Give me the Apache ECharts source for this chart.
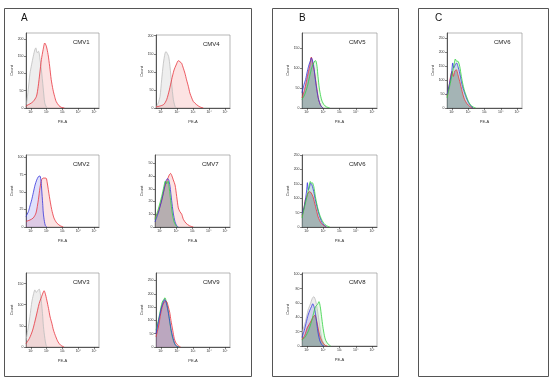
<!DOCTYPE html>
<html><head><meta charset="utf-8">
<script src="https://cdn.jsdelivr.net/npm/echarts@6/dist/echarts.min.js"></script>
<style>html,body{margin:0;padding:0;background:#fff}#c{width:550px;height:380px}</style>
</head><body><div id="c"></div>
<script>
// ---------- DATA (x = log10 decade of PE-A, y = count) ----------
const xTickValues = [1, 2, 3, 4, 5];
const xTickLabels = ['10\u00b9', '10\u00b2', '10\u00b3', '10\u2074', '10\u2075'];
const panelTitles = ['CMV1', 'CMV4', 'CMV2', 'CMV7', 'CMV3', 'CMV9', 'CMV5', 'CMV6', 'CMV8', 'CMV6'];
const panelLetters = ['A', 'B', 'C'];

const yTicks1 = [0, 50, 100, 150, 200];
const yTicks4 = [0, 50, 100, 150, 200];
const yTicks2 = [0, 25, 50, 75, 100];
const yTicks7 = [0, 10, 20, 30, 40, 50];
const yTicks3 = [0, 50, 100, 150];
const yTicks9 = [0, 50, 100, 150, 200, 250];
const yTicks5 = [0, 50, 100, 150];
const yTicks6b = [0, 50, 100, 150, 200, 250];
const yTicks8 = [0, 20, 40, 60, 80, 100];
const yTicks6c = [0, 50, 100, 150, 200, 250];

// CMV1
const cmv1Grey = [[0.7,10],[0.74,15],[0.84,53],[0.95,100],[1.05,125],[1.16,150],[1.26,169],[1.32,174],[1.40,160],[1.49,164],[1.57,145],[1.67,110],[1.78,60],[1.88,15],[1.98,3],[2.05,0]];
const cmv1Red = [[0.7,5],[0.74,7],[0.95,12],[1.16,19],[1.36,34],[1.47,63],[1.57,101],[1.67,140],[1.78,169],[1.88,188],[1.98,179],[2.09,155],[2.19,121],[2.29,82],[2.40,53],[2.50,34],[2.60,19],[2.77,7],[2.92,2],[3.12,0]];
// CMV4
const cmv4Grey = [[0.7,0],[0.84,14],[0.95,32],[1.05,78],[1.16,124],[1.26,151],[1.32,156],[1.40,151],[1.49,142],[1.57,115],[1.67,69],[1.78,23],[1.88,5],[1.95,0]];
const cmv4Red = [[0.7,3],[1.16,9],[1.36,23],[1.53,50],[1.67,78],[1.82,105],[1.95,119],[2.09,131],[2.19,128],[2.29,124],[2.40,110],[2.50,96],[2.60,78],[2.71,60],[2.81,41],[2.92,28],[3.02,18],[3.23,9],[3.43,3],[3.64,0]];
// CMV2
const cmv2Blue = [[0.7,15],[0.85,22],[0.95,30],[1.06,39],[1.16,49],[1.27,60],[1.37,67],[1.48,72],[1.58,73],[1.65,65],[1.69,53],[1.75,34],[1.79,20],[1.86,8],[1.92,2],[2.0,0]];
const cmv2Red = [[0.7,8],[0.95,10],[1.16,13],[1.33,20],[1.48,39],[1.58,56],[1.69,68],[1.79,70],[1.96,70],[2.04,63],[2.17,44],[2.32,25],[2.46,13],[2.63,6],[2.84,2],[3.05,0]];
// CMV7
const cmv7Red = [[0.7,7],[0.9,12],[1.11,21],[1.31,32],[1.46,37],[1.58,41],[1.66,42],[1.74,40],[1.82,37],[1.93,33],[2.03,24],[2.13,15],[2.23,12],[2.34,10],[2.44,6],[2.6,3],[2.81,1],[3.05,0]];
const cmv7Blue = [[0.7,4],[0.9,11],[1.11,21],[1.25,29],[1.37,36],[1.46,38],[1.54,37],[1.62,32],[1.72,21],[1.82,11],[1.93,4],[2.03,1],[2.13,0]];
const cmv7Green = [[0.7,6],[0.9,14],[1.11,24],[1.25,32],[1.33,36],[1.42,34],[1.50,36],[1.58,30],[1.66,21],[1.76,11],[1.87,4],[1.99,1],[2.07,0]];
// CMV3
const cmv3Grey = [[0.7,16],[0.85,48],[0.97,79],[1.07,107],[1.16,123],[1.26,135],[1.35,129],[1.43,133],[1.53,137],[1.60,127],[1.68,103],[1.74,79],[1.80,48],[1.89,20],[1.97,4],[2.05,0]];
const cmv3Red = [[0.7,8],[0.91,20],[1.12,40],[1.33,71],[1.53,103],[1.68,119],[1.80,131],[1.84,133],[1.91,127],[2.01,111],[2.12,91],[2.22,71],[2.33,56],[2.43,40],[2.58,24],[2.72,12],[2.89,4],[3.1,0]];
// CMV9
const cmv9Red = [[0.7,38],[0.85,75],[0.99,125],[1.11,156],[1.22,169],[1.30,173],[1.38,169],[1.47,150],[1.55,131],[1.63,100],[1.74,63],[1.84,31],[1.94,15],[2.09,5],[2.23,0]];
const cmv9Blue = [[0.7,50],[0.91,113],[1.05,150],[1.16,169],[1.24,178],[1.32,169],[1.42,144],[1.53,106],[1.63,69],[1.74,38],[1.86,13],[1.98,3],[2.11,0]];
const cmv9Green = [[0.7,63],[0.8,88],[0.91,119],[1.01,150],[1.09,169],[1.18,178],[1.26,185],[1.32,175],[1.40,156],[1.49,125],[1.57,88],[1.67,50],[1.78,25],[1.88,10],[1.98,3],[2.15,0]];
// CMV5
const cmv5Red = [[0.7,25],[0.86,46],[1.03,79],[1.17,104],[1.27,127],[1.37,108],[1.44,96],[1.52,75],[1.62,46],[1.72,21],[1.85,6],[1.99,0]];
const cmv5Blue = [[0.7,38],[0.82,58],[0.92,71],[1.03,92],[1.13,108],[1.21,117],[1.27,125],[1.33,121],[1.42,104],[1.52,71],[1.62,42],[1.72,21],[1.85,6],[1.99,0]];
const cmv5Green = [[0.7,21],[0.86,33],[1.03,54],[1.17,79],[1.27,96],[1.37,108],[1.48,117],[1.54,118],[1.62,104],[1.68,79],[1.76,50],[1.85,29],[1.93,17],[2.05,8],[2.19,3],[2.4,0]];
// CMV6 (B)
const cmv6bRed = [[0.7,37],[0.82,66],[0.9,94],[0.99,106],[1.07,118],[1.17,123],[1.27,118],[1.37,106],[1.48,83],[1.58,60],[1.68,37],[1.78,23],[1.89,12],[2.05,5],[2.19,0]];
const cmv6bBlue = [[0.7,43],[0.86,77],[0.99,129],[1.03,154],[1.09,129],[1.17,141],[1.23,152],[1.31,146],[1.42,123],[1.52,94],[1.62,71],[1.72,48],[1.82,31],[1.93,16],[2.05,7],[2.21,0]];
const cmv6bGreen = [[0.7,31],[0.86,71],[1.03,112],[1.15,146],[1.21,158],[1.27,152],[1.33,154],[1.42,141],[1.52,106],[1.62,77],[1.72,54],[1.82,37],[1.93,23],[2.05,12],[2.19,5],[2.4,0]];
// CMV8
const cmv8Grey = [[0.7,18],[0.91,34],[1.07,50],[1.22,59],[1.32,66],[1.42,69],[1.53,64],[1.63,52],[1.74,36],[1.84,20],[1.94,8],[2.09,1],[2.15,0]];
const cmv8Red = [[0.7,9],[0.87,15],[1.01,25],[1.16,31],[1.28,36],[1.40,41],[1.49,43],[1.59,36],[1.69,25],[1.80,14],[1.94,6],[2.11,1],[2.25,0]];
const cmv8Blue = [[0.7,12],[0.84,22],[0.97,34],[1.07,43],[1.18,50],[1.28,55],[1.36,59],[1.45,54],[1.53,45],[1.61,31],[1.69,18],[1.80,7],[1.94,1],[2.05,0]];
const cmv8Green = [[0.7,8],[0.91,13],[1.11,22],[1.28,34],[1.40,45],[1.53,55],[1.65,58],[1.74,62],[1.82,55],[1.90,41],[1.98,27],[2.07,15],[2.15,8],[2.29,3],[2.46,0]];
// CMV6 (C)
const cmv6cRed = [[0.7,42],[0.82,75],[0.9,107],[1.01,131],[1.09,113],[1.17,131],[1.27,137],[1.37,119],[1.48,95],[1.58,71],[1.68,48],[1.78,30],[1.93,15],[2.09,6],[2.3,0]];
const cmv6cBlue = [[0.7,48],[0.86,89],[0.99,131],[1.05,161],[1.11,143],[1.21,155],[1.29,161],[1.37,149],[1.48,125],[1.58,95],[1.68,71],[1.78,54],[1.89,36],[2.01,20],[2.15,8],[2.3,0]];
const cmv6cGreen = [[0.7,36],[0.86,77],[1.03,125],[1.15,161],[1.21,175],[1.29,167],[1.37,167],[1.48,149],[1.58,113],[1.68,83],[1.78,60],[1.89,42],[2.01,24],[2.13,12],[2.3,4],[2.46,0]];

// ---------- STYLE / LAYOUT ----------
const C = {
  red: {line: '#e8323c', fill: 'rgba(242,130,130,0.32)'},
  grey: {line: '#bdbdbd', fill: 'rgba(200,200,200,0.45)'},
  blue: {line: '#3535dc', fill: 'rgba(110,110,235,0.30)'},
  green: {line: '#2fd23f', fill: 'rgba(140,225,140,0.30)'},
  redDark: {line: '#e8323c', fill: 'rgba(120,116,108,0.72)'},
  greenDark: {line: '#2fd23f', fill: 'rgba(125,122,110,0.6)'},
  blueLight: {line: '#3535dc', fill: 'rgba(110,160,220,0.28)'}
};

const panels = [
  {left: 26, top: 33, w: 73, h: 75, ymax: 217, yt: yTicks1, curves: [[cmv1Grey, C.grey], [cmv1Red, C.red]]},
  {left: 156, top: 35, w: 74, h: 73, ymax: 202, yt: yTicks4, curves: [[cmv4Grey, C.grey], [cmv4Red, C.red]]},
  {left: 26, top: 155, w: 73, h: 72, ymax: 103, yt: yTicks2, curves: [[cmv2Red, C.red], [cmv2Blue, C.blue]]},
  {left: 155, top: 155, w: 75, h: 72, ymax: 56.5, yt: yTicks7, curves: [[cmv7Red, C.red], [cmv7Blue, C.blueLight], [cmv7Green, C.greenDark]]},
  {left: 26, top: 273, w: 73, h: 74, ymax: 175, yt: yTicks3, curves: [[cmv3Grey, C.grey], [cmv3Red, C.red]]},
  {left: 156, top: 273, w: 74, h: 74, ymax: 278, yt: yTicks9, curves: [[cmv9Green, C.greenDark], [cmv9Red, C.red], [cmv9Blue, C.blue]]},
  {left: 302, top: 33, w: 75, h: 75, ymax: 187, yt: yTicks5, curves: [[cmv5Red, C.redDark], [cmv5Blue, C.blue], [cmv5Green, C.green]]},
  {left: 302, top: 155, w: 75, h: 72, ymax: 250, yt: yTicks6b, curves: [[cmv6bRed, C.redDark], [cmv6bBlue, C.blue], [cmv6bGreen, C.green]]},
  {left: 302, top: 273, w: 75, h: 73, ymax: 102, yt: yTicks8, curves: [[cmv8Grey, C.grey], [cmv8Red, C.redDark], [cmv8Blue, C.blue], [cmv8Green, C.green]]},
  {left: 447, top: 33, w: 75, h: 75, ymax: 268, yt: yTicks6c, curves: [[cmv6cRed, C.redDark], [cmv6cBlue, C.blue], [cmv6cGreen, C.green]]}
];

const FONT = 'Liberation Sans, Arial, sans-serif';
const grid = [], xAxis = [], yAxis = [], series = [], graphic = [];

panels.forEach((p, i) => {
  grid.push({left: p.left, top: p.top, width: p.w, height: p.h, show: true, borderColor: '#9a9a9a', borderWidth: 0.7, backgroundColor: 'transparent'});
  xAxis.push({
    gridIndex: i, type: 'value', min: 0.7, max: 5.3,
    name: 'PE-A', nameLocation: 'middle', nameGap: 12,
    nameTextStyle: {fontSize: 4, color: '#333', fontFamily: FONT},
    axisLine: {show: true, lineStyle: {color: '#333', width: 0.8}},
    axisTick: {show: true, length: 2, customValues: xTickValues, lineStyle: {color: '#333', width: 0.6}},
    axisLabel: {fontSize: 3.5, color: '#333', margin: 2.5, fontFamily: FONT, customValues: xTickValues,
      formatter: v => xTickLabels[xTickValues.indexOf(Math.round(v))] || ''},
    splitLine: {show: false}
  });
  yAxis.push({
    gridIndex: i, type: 'value', min: 0, max: p.ymax,
    name: 'Count', nameLocation: 'middle', nameGap: 11,
    nameTextStyle: {fontSize: 4, color: '#333', fontFamily: FONT},
    axisLine: {show: true, lineStyle: {color: '#333', width: 0.8}},
    axisTick: {show: true, length: 2, customValues: p.yt, lineStyle: {color: '#333', width: 0.6}},
    axisLabel: {fontSize: 3.5, color: '#333', margin: 2.5, fontFamily: FONT, customValues: p.yt},
    splitLine: {show: false}
  });
  p.curves.forEach(([data, st]) => {
    series.push({
      type: 'line', xAxisIndex: i, yAxisIndex: i, data: data,
      showSymbol: false, smooth: 0.25, silent: true, animation: false,
      lineStyle: {color: st.line, width: 0.8},
      areaStyle: {color: st.fill, origin: 'start'}
    });
  });
  graphic.push({type: 'text', left: p.left + 47, top: p.top + 6,
    style: {text: panelTitles[i], fontSize: 6, fill: '#222', fontFamily: FONT}});
});

// panel frames and letters
const boxes = [[4, 8, 247, 368], [272, 8, 126, 368], [418, 8, 130, 368]];
const letterPos = [[21, 13], [299, 13], [435, 13]];
boxes.forEach((b, k) => {
  graphic.push({type: 'rect', shape: {x: b[0] + 0.5, y: b[1] + 0.5, width: b[2], height: b[3]},
    style: {fill: 'none', stroke: '#555', lineWidth: 1}});
  graphic.push({type: 'text', left: letterPos[k][0], top: letterPos[k][1],
    style: {text: panelLetters[k], fontSize: 10, fill: '#111', fontFamily: FONT}});
});

const chart = echarts.init(document.getElementById('c'), null, {renderer: 'canvas'});
chart.setOption({animation: false, backgroundColor: '#fff', grid, xAxis, yAxis, series, graphic});
</script></body></html>
